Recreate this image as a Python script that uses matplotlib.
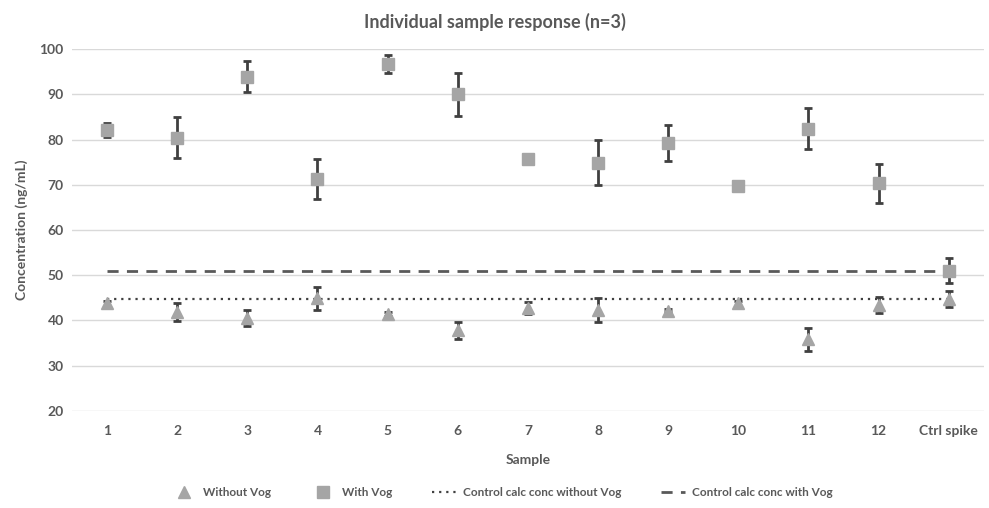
import matplotlib
matplotlib.use("Agg")
import matplotlib.pyplot as plt
from matplotlib.lines import Line2D
import numpy as np

plt.rcParams['font.family'] = ['Lato', 'DejaVu Sans']

categories = ["1", "2", "3", "4", "5", "6", "7", "8", "9", "10", "11", "12", "Ctrl spike"]
with_vog = [82.1, 80.4, 93.9, 71.2, 96.7, 90.0, 75.8, 74.9, 79.2, 69.7, 82.4, 70.3, 51.0]
with_vog_err = [1.5, 4.5, 3.5, 4.4, 1.9, 4.7, 0.8, 5.0, 3.9, 0.5, 4.5, 4.3, 2.8]
without_vog = [43.8, 41.8, 40.5, 44.9, 41.4, 37.8, 42.8, 42.3, 42.2, 43.8, 35.8, 43.5, 44.7]
without_vog_err = [0.5, 2.0, 1.8, 2.5, 0.5, 1.8, 1.3, 2.7, 0.4, 0.5, 2.6, 1.8, 1.8]
ctrl_without = 44.75
ctrl_with = 51.0

title = "Individual sample response (n=3)"
xlabel = "Sample"
ylabel = "Concentration (ng/mL)"
yticks = [20, 30, 40, 50, 60, 70, 80, 90, 100]
legend_labels = ["Without Vog", "With Vog", "Control calc conc without Vog", "Control calc conc with Vog"]

txt = "#595959"
marker_c = "#a5a5a5"
err_c = "#404040"
dot_style = (0, (1, 2.2))
dash_style = (0, (4, 3))

fig = plt.figure(figsize=(9.89, 5.08), dpi=100)
ax = fig.add_axes([0.0728, 0.191, 0.922, 0.7125])
x = np.arange(len(categories))

ax.hlines(ctrl_without, x[0], x[-1], colors="#404040", linestyles=dot_style, linewidth=1.6, zorder=2)
ax.hlines(ctrl_with, x[0], x[-1], colors="#595959", linestyles=dash_style, linewidth=2.0, zorder=2)

ax.errorbar(x, without_vog, yerr=without_vog_err, fmt='^', color=marker_c, markersize=9,
            ecolor=err_c, elinewidth=2, capsize=3, capthick=2, zorder=4)
ax.errorbar(x, with_vog, yerr=with_vog_err, fmt='s', color=marker_c, markersize=8.5,
            ecolor=err_c, elinewidth=2, capsize=3, capthick=2, zorder=4)

ax.set_xlim(-0.5, len(categories) - 0.5)
ax.set_ylim(20, 100)
ax.set_yticks(yticks)
ax.set_xticks(x)
ax.set_xticklabels(categories)
ax.yaxis.grid(True, color="#d9d9d9", linewidth=1)
ax.set_axisbelow(True)
for s in ax.spines.values():
    s.set_visible(False)
ax.tick_params(length=0, colors=txt, labelsize=10, pad=10)
ax.tick_params(axis='y', pad=6)
for lab in ax.get_xticklabels() + ax.get_yticklabels():
    lab.set_fontweight("bold")

ax.set_xlabel(xlabel, color=txt, fontsize=10, fontweight="bold", labelpad=12)
ax.set_ylabel(ylabel, color=txt, fontsize=10, fontweight="bold", labelpad=8)
fig.suptitle(title, x=0.5, y=0.975, color=txt, fontsize=13, fontweight="bold")

handles = [
    Line2D([], [], linestyle='none', marker='^', color=marker_c, markersize=9),
    Line2D([], [], linestyle='none', marker='s', color=marker_c, markersize=8.5),
    Line2D([], [], color="#404040", linestyle=dot_style, linewidth=1.6),
    Line2D([], [], color="#595959", linestyle=dash_style, linewidth=2.0),
]
leg = fig.legend(handles, legend_labels, loc="center",
                 bbox_to_anchor=(0.508, 0.03), ncol=4, frameon=False, fontsize=8.5,
                 handlelength=2.0, columnspacing=3.4, handletextpad=0.6)
for t in leg.get_texts():
    t.set_color(txt)
    t.set_fontweight("bold")

fig.savefig("out.png", dpi=100)
